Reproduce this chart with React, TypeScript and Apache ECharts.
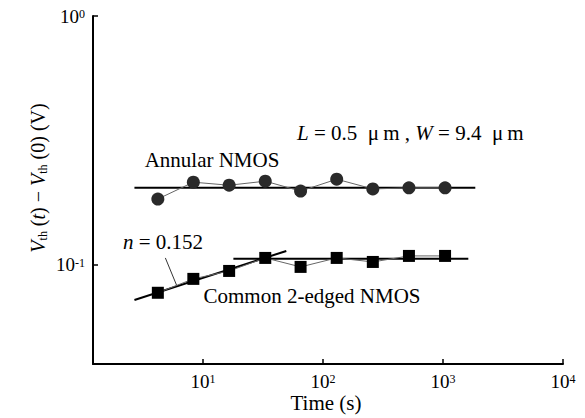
import React, { useEffect, useRef } from "react";
import * as echarts from "echarts";

const FONT = "Liberation Serif";

const times = [4.2, 8.3, 16.5, 33, 65, 130, 260, 520, 1040];
const annularValues = [0.184, 0.215, 0.209, 0.217, 0.198, 0.221, 0.202, 0.204, 0.204];
const commonValues = [0.0773, 0.0879, 0.0946, 0.1067, 0.0982, 0.1067, 0.1028, 0.1087, 0.1087];

const annularFit: [number, number][] = [[2.68, 0.2043], [1858, 0.2043]];
const commonFitRise: [number, number][] = [[2.68, 0.0723], [49.4, 0.1138]];
const commonFitFlat: [number, number][] = [[17.9, 0.106], [1625, 0.106]];
const pointer: [number, number][] = [[4.85, 0.1067], [6.1, 0.0816]];

const xMin = 1.21;
const xMax = 10000;
const yMin = 0.04;
const yMax = 1;

function isPow10(v: number) {
  const l = Math.log10(v);
  return Math.abs(l - Math.round(l)) < 1e-6;
}
function powLabel(v: number) {
  if (!isPow10(v)) return "";
  return "{b|10}{s|" + Math.round(Math.log10(v)) + "}";
}

const tickRich = {
  b: { fontFamily: FONT, fontSize: 19, color: "#000", lineHeight: 16 },
  s: { fontFamily: FONT, fontSize: 12, color: "#000", verticalAlign: "top", lineHeight: 16, padding: [0, 0, 6, 0] },
};

export default function App() {
  const ref = useRef<HTMLDivElement>(null);
  useEffect(() => {
    if (!ref.current) return;
    const chart = echarts.init(ref.current, null, { renderer: "svg" });
    const zip = (xs: number[], ys: number[]) => xs.map((x, i) => [x, ys[i]]);
    chart.setOption({
      animation: false,
      backgroundColor: "#fff",
      textStyle: { fontFamily: FONT },
      grid: { left: 93, right: 22, top: 16, bottom: 54, containLabel: false, outerBoundsMode: "none" },
      xAxis: {
        type: "log",
        min: xMin,
        max: xMax,
        axisLine: { lineStyle: { color: "#000", width: 2 } },
        axisTick: { inside: true, length: 5, lineStyle: { color: "#000", width: 1.5 } },
        minorTick: { show: false },
        splitLine: { show: false },
        axisLabel: { margin: 9, formatter: powLabel, rich: tickRich, showMinLabel: false },
      },
      yAxis: {
        type: "log",
        min: yMin,
        max: yMax,
        axisLine: { lineStyle: { color: "#000", width: 2 } },
        axisTick: { inside: true, length: 5, lineStyle: { color: "#000", width: 1.5 } },
        minorTick: { show: false },
        splitLine: { show: false },
        axisLabel: { margin: 8, formatter: powLabel, rich: tickRich, showMinLabel: false },
      },
      series: [
        {
          type: "line",
          data: zip(times, annularValues),
          symbol: "circle",
          symbolSize: 13,
          itemStyle: { color: "#2a2a2a" },
          lineStyle: { color: "#666", width: 1 },
          z: 3,
        },
        {
          type: "line",
          data: zip(times, commonValues),
          symbol: "rect",
          symbolSize: 12,
          itemStyle: { color: "#000" },
          lineStyle: { color: "#666", width: 1 },
          z: 3,
        },
        { type: "line", data: annularFit, showSymbol: false, lineStyle: { color: "#000", width: 2 }, z: 2 },
        { type: "line", data: commonFitRise, showSymbol: false, lineStyle: { color: "#000", width: 2 }, z: 2 },
        { type: "line", data: commonFitFlat, showSymbol: false, lineStyle: { color: "#000", width: 2 }, z: 2 },
        { type: "line", data: pointer, showSymbol: false, lineStyle: { color: "#000", width: 0.8 }, z: 2 },
      ],
      graphic: [
        {
          type: "text",
          x: 326,
          y: 403,
          style: { text: "Time (s)", fontFamily: FONT, fontSize: 21, fill: "#000", align: "center", verticalAlign: "middle" },
        },
        {
          type: "text",
          x: 38,
          y: 178,
          rotation: Math.PI / 2,
          style: {
            text: "{i|V}{sub|th}{n| (}{i|t}{n|) − }{i|V}{sub|th}{n| (0) (V)}",
            align: "center",
            verticalAlign: "middle",
            rich: {
              i: { fontFamily: FONT, fontSize: 20, fontStyle: "italic", fill: "#000", lineHeight: 22 },
              n: { fontFamily: FONT, fontSize: 20, fill: "#000", lineHeight: 22 },
              sub: { fontFamily: FONT, fontSize: 12, fill: "#000", verticalAlign: "bottom", lineHeight: 22, padding: [6, 0, 0, 0] },
            },
          },
        },
        {
          type: "text",
          x: 212,
          y: 160,
          style: { text: "Annular NMOS", fontFamily: FONT, fontSize: 21, fill: "#000", align: "center", verticalAlign: "middle" },
        },
        {
          type: "text",
          x: 312,
          y: 296,
          style: { text: "Common 2-edged NMOS", fontFamily: FONT, fontSize: 21, fill: "#000", align: "center", verticalAlign: "middle" },
        },
        {
          type: "text",
          x: 297,
          y: 133,
          style: {
            text: "{i|L}{n| = 0.5  μ\u2009m , }{i|W}{n| = 9.4  μ\u2009m}",
            align: "left",
            verticalAlign: "middle",
            rich: {
              i: { fontFamily: FONT, fontSize: 21, fontStyle: "italic", fill: "#000" },
              n: { fontFamily: FONT, fontSize: 21, fill: "#000" },
            },
          },
        },
        {
          type: "text",
          x: 123,
          y: 242,
          style: {
            text: "{i|n}{n| = 0.152}",
            align: "left",
            verticalAlign: "middle",
            rich: {
              i: { fontFamily: FONT, fontSize: 21, fontStyle: "italic", fill: "#000" },
              n: { fontFamily: FONT, fontSize: 21, fill: "#000" },
            },
          },
        },
      ],
    });
    return () => chart.dispose();
  }, []);
  return <div ref={ref} style={{ position: "absolute", left: 0, top: 0, width: 585, height: 418 }} />;
}
